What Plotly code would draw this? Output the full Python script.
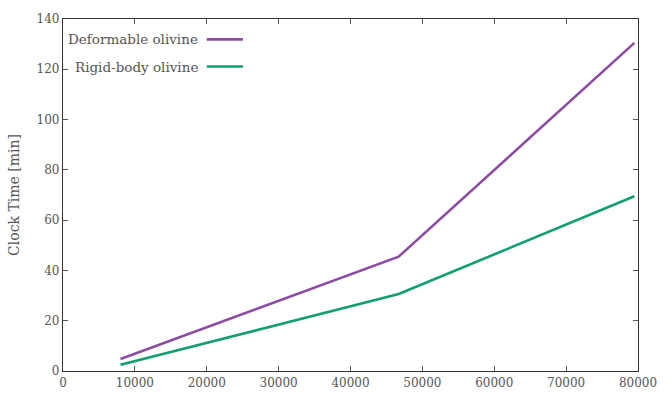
import plotly.graph_objects as go

particles = [8000, 46700, 79500]
deformable = [4.8, 45.5, 130.5]
rigid = [2.5, 30.6, 69.5]
series_names = ["Deformable olivine", "Rigid-body olivine"]
colors = ["#8e4ba4", "#119e73"]
x_ticks = [0, 10000, 20000, 30000, 40000, 50000, 60000, 70000, 80000]
y_ticks = [0, 20, 40, 60, 80, 100, 120, 140]

font = dict(family="DejaVu Serif, Liberation Serif, serif", size=12, color="#555555")
leg_font = dict(family="DejaVu Serif, Liberation Serif, serif", size=13.5, color="#555555")
title_font = dict(family="DejaVu Serif, Liberation Serif, serif", size=14, color="#555555")

fig = go.Figure()
for name, ys, c in zip(series_names, [deformable, rigid], colors):
    fig.add_trace(go.Scatter(x=particles, y=ys, mode="lines", name=name,
                             line=dict(color=c, width=2.6), showlegend=False))

axis_common = dict(showline=True, linecolor="#333333", linewidth=1.2, mirror="ticks",
                   ticks="inside", ticklen=5, tickcolor="#555555", showgrid=False,
                   zeroline=False, tickfont=font)
fig.update_xaxes(range=[0, 80000], tickvals=x_ticks, ticktext=[str(v) for v in x_ticks], **axis_common)
fig.update_yaxes(range=[0, 140], tickvals=y_ticks, ticktext=[str(v) for v in y_ticks],
                 title=dict(text="Clock Time [min]", font=title_font, standoff=13), **axis_common)

# legend (text then sample line on the right, gnuplot style)
leg_y = [0.942, 0.865]
for name, c, yy in zip(series_names, colors, leg_y):
    fig.add_annotation(xref="paper", yref="paper", x=0.238, y=yy, text=name, showarrow=False,
                       xanchor="right", yanchor="middle", font=leg_font)
    fig.add_shape(type="line", xref="paper", yref="paper", x0=0.250, x1=0.313, y0=yy, y1=yy,
                  line=dict(color=c, width=2.6))

fig.update_layout(width=669, height=402, margin=dict(l=63, r=23, t=13, b=26),
                  plot_bgcolor="white", paper_bgcolor="white", font=font)
fig.write_html("out.html")
